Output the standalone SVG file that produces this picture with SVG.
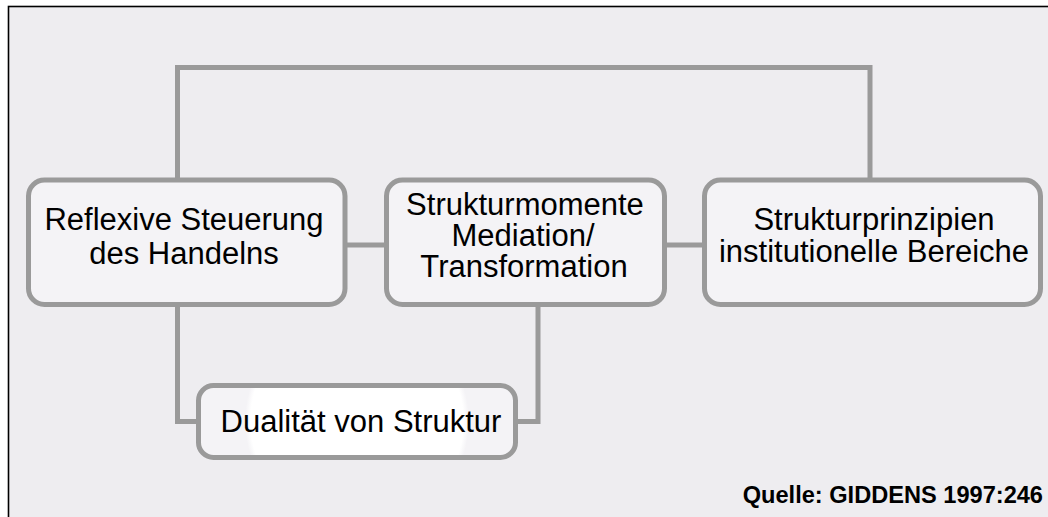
<svg xmlns="http://www.w3.org/2000/svg" width="1048" height="517" viewBox="0 0 1048 517">
  <style>
    .frame { fill: #eeedf0; stroke: #000; stroke-width: 1.6; }
    .box { fill: #f4f3f6; stroke: #9a9a9a; stroke-width: 5; }
    .link { fill: none; stroke: #9a9a9a; stroke-width: 5; stroke-linejoin: miter; }
    .label { font-family: "Liberation Sans", Arial, sans-serif; font-size: 31px; fill: #000; text-anchor: middle; }
    .source { font-family: "Liberation Sans", Arial, sans-serif; font-size: 23.6px; font-weight: bold; fill: #000; text-anchor: end; }
  </style>
  <defs>
    <radialGradient id="glow" gradientUnits="userSpaceOnUse" cx="357" cy="421" r="112">
      <stop offset="0" stop-color="#ffffff"/>
      <stop offset="0.95" stop-color="#ffffff"/>
      <stop offset="1" stop-color="#f4f3f6"/>
    </radialGradient>
  </defs>

  <rect width="1048" height="517" fill="#ffffff"/>
  <rect class="frame" x="8.5" y="6.5" width="1100" height="560"/>

  <g id="connectors">
    <polyline class="link" points="177.5,180 177.5,67.5 870,67.5 870,180"/>
    <line class="link" x1="345" y1="245" x2="387" y2="245"/>
    <line class="link" x1="664" y1="245" x2="705" y2="245"/>
    <polyline class="link" points="177.5,304 177.5,421.5 199,421.5"/>
    <polyline class="link" points="538,304 538,421.5 515,421.5"/>
  </g>

  <g id="reflexive-steuerung">
    <rect class="box" x="28.5" y="180" width="316.5" height="124.5" rx="16"/>
    <text class="label" x="184" y="230">Reflexive Steuerung<tspan x="184" dy="34">des Handelns</tspan></text>
  </g>

  <g id="strukturmomente">
    <rect class="box" x="386.5" y="180" width="278" height="124.5" rx="16"/>
    <text class="label" x="525" y="215">Strukturmomente<tspan x="523" dy="31">Mediation/</tspan><tspan x="524" dy="30.5">Transformation</tspan></text>
  </g>

  <g id="strukturprinzipien">
    <rect class="box" x="704.5" y="180" width="336" height="124.5" rx="16"/>
    <text class="label" x="874" y="230">Strukturprinzipien<tspan x="874" dy="32">institutionelle Bereiche</tspan></text>
  </g>

  <g id="dualitaet">
    <rect class="box" x="198.5" y="385.5" width="317" height="72" rx="15" style="fill:url(#glow)"/>
    <text class="label" x="361" y="432">Dualität von Struktur</text>
  </g>

  <text class="source" x="1043" y="503">Quelle: GIDDENS 1997:246</text>
</svg>
